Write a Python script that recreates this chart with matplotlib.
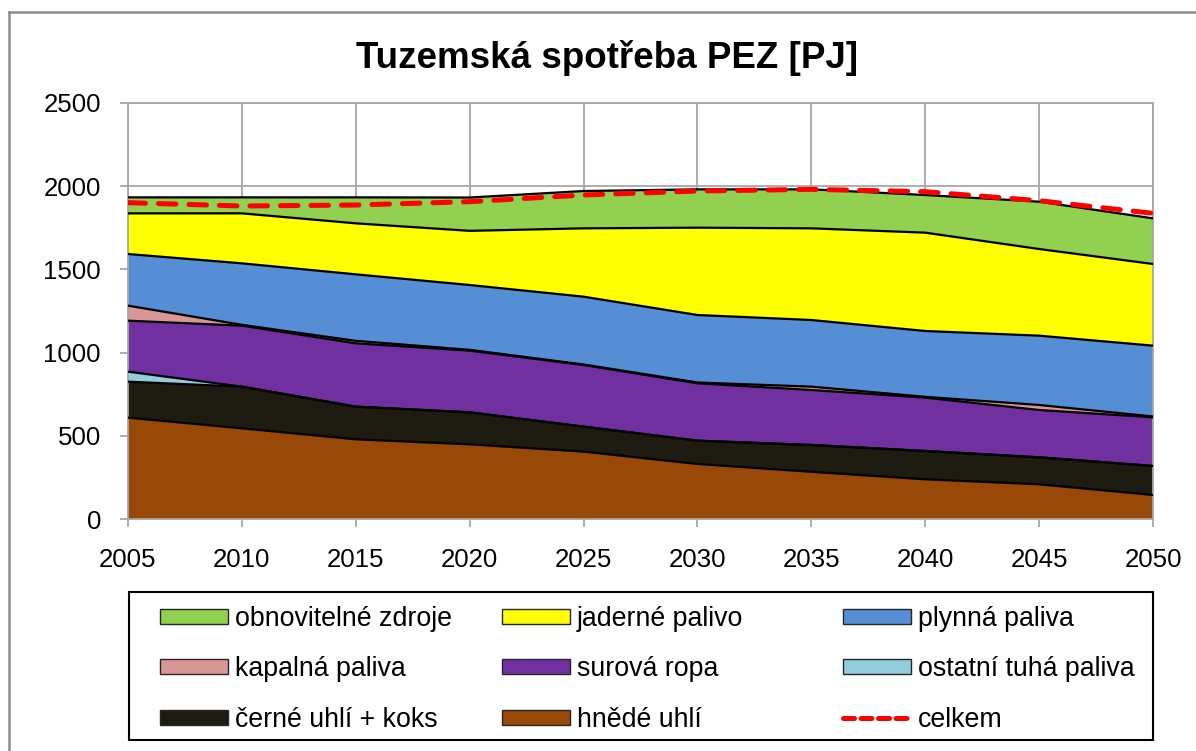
import matplotlib
matplotlib.use("Agg")
import matplotlib.pyplot as plt
from matplotlib.patches import Patch, Rectangle
from matplotlib.lines import Line2D
import numpy as np

plt.rcParams['font.family'] = ['Liberation Sans', 'DejaVu Sans']

years = [2005, 2010, 2015, 2020, 2025, 2030, 2035, 2040, 2045, 2050]

# PJ per category (stack order bottom -> top)
hnede_uhli = [610, 546, 480, 450, 406, 332, 285, 240, 210, 146]
cerne_uhli = [216, 250, 196, 192, 150, 140, 161, 170, 162, 174]
ostatni_tuha = [60, 0, 0, 0, 0, 0, 0, 0, 0, 0]
surova_ropa = [306, 366, 380, 370, 370, 344, 330, 320, 284, 292]
kapalna = [90, 5, 15, 5, 3, 5, 20, 5, 30, 5]
plynna = [310, 369, 399, 389, 407, 405, 400, 395, 416, 425]
jaderne = [244, 300, 306, 325, 410, 524, 550, 590, 520, 490]
obnovitelne = [96, 96, 156, 200, 224, 230, 234, 226, 284, 274]
celkem = [1900, 1880, 1886, 1906, 1946, 1970, 1980, 1966, 1912, 1836]

series = [
    ("hnědé uhlí", hnede_uhli, "#984807"),
    ("černé uhlí + koks", cerne_uhli, "#1E1B11"),
    ("ostatní tuhá paliva", ostatni_tuha, "#93CDDD"),
    ("surová ropa", surova_ropa, "#7030A0"),
    ("kapalná paliva", kapalna, "#D99694"),
    ("plynná paliva", plynna, "#558ED5"),
    ("jaderné palivo", jaderne, "#FFFF00"),
    ("obnovitelné zdroje", obnovitelne, "#92D050"),
]

W, H = 1196, 751
fig = plt.figure(figsize=(W / 100, H / 100), dpi=100)
ax = fig.add_axes([128 / W, 1 - 519.3 / H, (1153 - 128) / W, (519.3 - 102.7) / H])

grid_col = "#A6A6A6"
x = np.array(years)
bottom = np.zeros(len(years))
tops = []
for name, vals, col in series:
    top = bottom + np.array(vals)
    ax.fill_between(x, bottom, top, facecolor=col, edgecolor="none", zorder=2)
    tops.append(top)
    bottom = top
for top in tops:
    ax.plot(x, top, color="black", lw=1.6, zorder=3, solid_joinstyle="round")

ax.plot(x, celkem, color="#FF0000", lw=3.6, dashes=(3.5, 2.6),
        dash_capstyle="round", zorder=4)

ax.set_xlim(2005, 2050)
ax.set_ylim(0, 2500)
ax.set_xticks(years)
ax.set_yticks([0, 500, 1000, 1500, 2000, 2500])
ax.grid(True, color=grid_col, lw=1.3, zorder=0)
ax.set_axisbelow(True)
for s in ax.spines.values():
    s.set_color(grid_col)
    s.set_linewidth(1.3)
ax.tick_params(axis="both", colors=grid_col, labelcolor="black", labelsize=18.6,
               length=5.5, width=1.3, direction="out")
ax.tick_params(axis="y", pad=14)
ax.tick_params(axis="x", pad=15)

fig.text(607 / W, 1 - 68 / H, "Tuzemská spotřeba PEZ [PJ]", ha="center",
         va="baseline", fontsize=26.5, fontweight="bold")

# legend: frame + three columns
colmap = {name: col for name, vals, col in series}


def patch(name):
    return Patch(facecolor=colmap[name], edgecolor="#262626", lw=1.0, label=name)


fig.add_artist(Rectangle((129 / W, 1 - 740 / H), (1153 - 129) / W, (740 - 592) / H,
                         transform=fig.transFigure, facecolor="white",
                         edgecolor="black", lw=1.5))

columns = [
    (160, [patch("obnovitelné zdroje"), patch("kapalná paliva"), patch("černé uhlí + koks")]),
    (502, [patch("jaderné palivo"), patch("surová ropa"), patch("hnědé uhlí")]),
    (843, [patch("plynná paliva"), patch("ostatní tuhá paliva"),
           Line2D([0], [0], color="#FF0000", lw=3.6, dashes=(2.2, 1.3),
                  dash_capstyle="round", label="celkem")]),
]
for xpos, hs in columns:
    leg = fig.legend(handles=hs, ncol=1, loc="upper left",
                     bbox_to_anchor=(xpos / W, 1 - 606 / H),
                     fontsize=19.3, frameon=False, handlelength=2.53,
                     handleheight=0.49, handletextpad=0.26, labelspacing=0.91,
                     borderaxespad=0, borderpad=0)

# outer chart border (cropped)
fig.add_artist(Line2D([9 / W, 9 / W], [1 - 12 / H, -0.1], color="#8C8C8C", lw=1.8))
fig.add_artist(Line2D([9 / W, 1.1], [1 - 12 / H, 1 - 12 / H], color="#8C8C8C", lw=1.8))

fig.savefig("out.png", dpi=100)
